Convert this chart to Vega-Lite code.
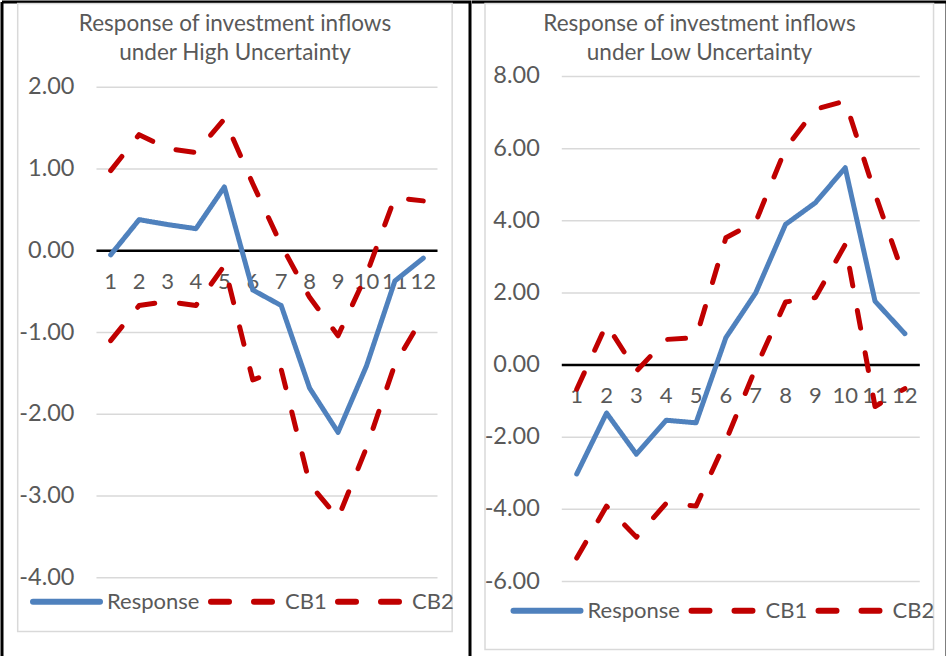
{
  "$schema": "https://vega.github.io/schema/vega-lite/v6.json",
  "padding": 0,
  "background": "white",
  "spacing": -3,
  "config": {
    "locale": {"number": {"decimal": ".", "thousands": ",", "grouping": [3], "currency": ["$", ""], "minus": "-"}},
    "font": "Lato",
    "title": {"font": "Lato", "fontSize": 22.5, "fontWeight": "normal", "color": "#595959", "lineHeight": 29, "anchor": "middle"},
    "text": {"font": "Lato", "fontSize": 22, "color": "#595959"},
    "legend": {
      "orient": "none", "direction": "horizontal", "title": null,
      "symbolType": "stroke", "symbolSize": 4489, "symbolStrokeWidth": 6,
      "labelFont": "Lato", "labelFontSize": 22, "labelColor": "#595959",
      "labelOffset": 4, "columnPadding": -1, "padding": 0, "labelLimit": 200
    }
  },
  "datasets": {
    "irf": [
      {"regime": "High", "series": "Response", "step": 1, "value": -0.05},
      {"regime": "High", "series": "Response", "step": 2, "value": 0.38},
      {"regime": "High", "series": "Response", "step": 3, "value": 0.32},
      {"regime": "High", "series": "Response", "step": 4, "value": 0.27},
      {"regime": "High", "series": "Response", "step": 5, "value": 0.78},
      {"regime": "High", "series": "Response", "step": 6, "value": -0.48},
      {"regime": "High", "series": "Response", "step": 7, "value": -0.67},
      {"regime": "High", "series": "Response", "step": 8, "value": -1.68},
      {"regime": "High", "series": "Response", "step": 9, "value": -2.22},
      {"regime": "High", "series": "Response", "step": 10, "value": -1.41},
      {"regime": "High", "series": "Response", "step": 11, "value": -0.37},
      {"regime": "High", "series": "Response", "step": 12, "value": -0.09},
      {"regime": "High", "series": "CB1", "step": 1, "value": -1.10},
      {"regime": "High", "series": "CB1", "step": 2, "value": -0.67},
      {"regime": "High", "series": "CB1", "step": 3, "value": -0.62},
      {"regime": "High", "series": "CB1", "step": 4, "value": -0.67},
      {"regime": "High", "series": "CB1", "step": 5, "value": -0.18},
      {"regime": "High", "series": "CB1", "step": 6, "value": -1.58},
      {"regime": "High", "series": "CB1", "step": 7, "value": -1.45},
      {"regime": "High", "series": "CB1", "step": 8, "value": -2.85},
      {"regime": "High", "series": "CB1", "step": 9, "value": -3.27},
      {"regime": "High", "series": "CB1", "step": 10, "value": -2.41},
      {"regime": "High", "series": "CB1", "step": 11, "value": -1.39},
      {"regime": "High", "series": "CB1", "step": 12, "value": -0.80},
      {"regime": "High", "series": "CB2", "step": 1, "value": 0.98},
      {"regime": "High", "series": "CB2", "step": 2, "value": 1.42},
      {"regime": "High", "series": "CB2", "step": 3, "value": 1.25},
      {"regime": "High", "series": "CB2", "step": 4, "value": 1.20},
      {"regime": "High", "series": "CB2", "step": 5, "value": 1.61},
      {"regime": "High", "series": "CB2", "step": 6, "value": 0.82},
      {"regime": "High", "series": "CB2", "step": 7, "value": 0.07},
      {"regime": "High", "series": "CB2", "step": 8, "value": -0.57},
      {"regime": "High", "series": "CB2", "step": 9, "value": -1.04},
      {"regime": "High", "series": "CB2", "step": 10, "value": -0.29},
      {"regime": "High", "series": "CB2", "step": 11, "value": 0.65},
      {"regime": "High", "series": "CB2", "step": 12, "value": 0.61},
      {"regime": "Low", "series": "Response", "step": 1, "value": -3.02},
      {"regime": "Low", "series": "Response", "step": 2, "value": -1.33},
      {"regime": "Low", "series": "Response", "step": 3, "value": -2.47},
      {"regime": "Low", "series": "Response", "step": 4, "value": -1.53},
      {"regime": "Low", "series": "Response", "step": 5, "value": -1.60},
      {"regime": "Low", "series": "Response", "step": 6, "value": 0.76},
      {"regime": "Low", "series": "Response", "step": 7, "value": 2.00},
      {"regime": "Low", "series": "Response", "step": 8, "value": 3.90},
      {"regime": "Low", "series": "Response", "step": 9, "value": 4.50},
      {"regime": "Low", "series": "Response", "step": 10, "value": 5.47},
      {"regime": "Low", "series": "Response", "step": 11, "value": 1.77},
      {"regime": "Low", "series": "Response", "step": 12, "value": 0.87},
      {"regime": "Low", "series": "CB1", "step": 1, "value": -5.35},
      {"regime": "Low", "series": "CB1", "step": 2, "value": -3.91},
      {"regime": "Low", "series": "CB1", "step": 3, "value": -4.77},
      {"regime": "Low", "series": "CB1", "step": 4, "value": -3.83},
      {"regime": "Low", "series": "CB1", "step": 5, "value": -3.91},
      {"regime": "Low", "series": "CB1", "step": 6, "value": -2.10},
      {"regime": "Low", "series": "CB1", "step": 7, "value": -0.08},
      {"regime": "Low", "series": "CB1", "step": 8, "value": 1.75},
      {"regime": "Low", "series": "CB1", "step": 9, "value": 1.87},
      {"regime": "Low", "series": "CB1", "step": 10, "value": 3.34},
      {"regime": "Low", "series": "CB1", "step": 11, "value": -1.15},
      {"regime": "Low", "series": "CB1", "step": 12, "value": -0.65},
      {"regime": "Low", "series": "CB2", "step": 1, "value": -0.67},
      {"regime": "Low", "series": "CB2", "step": 2, "value": 1.13},
      {"regime": "Low", "series": "CB2", "step": 3, "value": -0.17},
      {"regime": "Low", "series": "CB2", "step": 4, "value": 0.71},
      {"regime": "Low", "series": "CB2", "step": 5, "value": 0.76},
      {"regime": "Low", "series": "CB2", "step": 6, "value": 3.53},
      {"regime": "Low", "series": "CB2", "step": 7, "value": 3.97},
      {"regime": "Low", "series": "CB2", "step": 8, "value": 6.00},
      {"regime": "Low", "series": "CB2", "step": 9, "value": 7.09},
      {"regime": "Low", "series": "CB2", "step": 10, "value": 7.32},
      {"regime": "Low", "series": "CB2", "step": 11, "value": 4.75},
      {"regime": "Low", "series": "CB2", "step": 12, "value": 2.38}
    ],
    "gridHigh": [{"tick": -4}, {"tick": -3}, {"tick": -2}, {"tick": -1}, {"tick": 0}, {"tick": 1}, {"tick": 2}],
    "gridLow": [{"tick": -6}, {"tick": -4}, {"tick": -2}, {"tick": 0}, {"tick": 2}, {"tick": 4}, {"tick": 6}, {"tick": 8}]
  },
  "hconcat": [
    {
      "width": 468,
      "height": 654,
      "view": {"stroke": "black", "strokeWidth": 3, "strokeDash": [1122, 468, 654, 0]},
      "title": {"text": ["Response of investment inflows", "under High Uncertainty"], "offset": -62.5, "dx": -1},
      "layer": [
        {
          "data": {"values": [{}]},
          "mark": {"type": "rect", "fill": "transparent", "stroke": "#d9d9d9", "strokeWidth": 1.5},
          "encoding": {
            "x": {"datum": -2.273, "type": "quantitative", "axis": null},
            "x2": {"datum": 13.016},
            "y": {"datum": 3.024, "type": "quantitative", "axis": null},
            "y2": {"datum": -4.656}
          }
        },
        {
          "data": {"name": "gridHigh"},
          "mark": {"type": "rule", "stroke": "#d9d9d9", "strokeWidth": 1.5},
          "encoding": {
            "x": {"datum": 0.5, "type": "quantitative", "axis": null},
            "x2": {"datum": 12.5},
            "y": {"field": "tick", "type": "quantitative", "axis": null}
          }
        },
        {
          "data": {"name": "gridHigh"},
          "mark": {"type": "text", "align": "right", "baseline": "middle", "dx": -22, "fontSize": 23.5},
          "encoding": {
            "x": {"datum": 0.5, "type": "quantitative", "axis": null},
            "y": {"field": "tick", "type": "quantitative", "axis": null},
            "text": {"field": "tick", "type": "quantitative", "format": ".2f"}
          }
        },
        {
          "data": {"values": [{"tick": 0}]},
          "mark": {"type": "rule", "stroke": "black", "strokeWidth": 2.5},
          "encoding": {
            "x": {"datum": 0.5, "type": "quantitative", "axis": null},
            "x2": {"datum": 12.5},
            "y": {"field": "tick", "type": "quantitative", "axis": null}
          }
        },
        {
          "data": {"name": "irf"},
          "transform": [{"filter": "datum.regime === 'High' && datum.series === 'Response'"}],
          "mark": {"type": "text", "dy": 31, "baseline": "middle", "align": "center"},
          "encoding": {
            "x": {"field": "step", "type": "quantitative", "axis": null},
            "y": {"datum": 0, "type": "quantitative", "axis": null},
            "text": {"field": "step"}
          }
        },
        {
          "data": {"name": "irf"},
          "transform": [{"filter": "datum.regime === 'High'"}],
          "mark": {"type": "line", "strokeWidth": 5, "strokeCap": "round", "strokeJoin": "round"},
          "encoding": {
            "x": {"field": "step", "type": "quantitative", "scale": {"domain": [-2.825, 13.644], "nice": false, "zero": false}, "axis": null},
            "y": {"field": "value", "type": "quantitative", "scale": {"domain": [-4.956, 3.042], "nice": false, "zero": false}, "axis": null},
            "color": {
              "field": "series", "type": "nominal",
              "scale": {"domain": ["Response", "CB1", "CB2"], "range": ["#4F81BD", "#C00000", "#C00000"]},
              "legend": {"legendX": 28, "legendY": 563, "encode": {"symbols": {"update": {"strokeCap": {"value": "round"}}}}}
            },
            "strokeDash": {
              "field": "series", "type": "nominal",
              "scale": {"domain": ["Response", "CB1", "CB2"], "range": [[1, 0], [18, 25], [18, 25]]},
              "legend": {"legendX": 28, "legendY": 563, "encode": {"symbols": {"update": {"strokeCap": {"value": "round"}}}}}
            },
            "order": {"field": "step"}
          }
        }
      ]
    },
    {
      "width": 475,
      "height": 654,
      "view": {"stroke": "black", "strokeWidth": 3, "strokeDash": [1129, 1129]},
      "title": {"text": ["Response of investment inflows", "under Low Uncertainty"], "offset": -62.5, "dx": -10},
      "layer": [
        {
          "data": {"values": [{}]},
          "mark": {"type": "rect", "fill": "transparent", "stroke": "#d9d9d9", "strokeWidth": 1.5},
          "encoding": {
            "x": {"datum": -2.074, "type": "quantitative", "axis": null},
            "x2": {"datum": 12.961},
            "y": {"datum": 10.023, "type": "quantitative", "axis": null},
            "y2": {"datum": -7.886}
          }
        },
        {
          "data": {"name": "gridLow"},
          "mark": {"type": "rule", "stroke": "#d9d9d9", "strokeWidth": 1.5},
          "encoding": {
            "x": {"datum": 0.5, "type": "quantitative", "axis": null},
            "x2": {"datum": 12.5},
            "y": {"field": "tick", "type": "quantitative", "axis": null}
          }
        },
        {
          "data": {"name": "gridLow"},
          "mark": {"type": "text", "align": "right", "baseline": "middle", "dx": -22, "fontSize": 23.5},
          "encoding": {
            "x": {"datum": 0.5, "type": "quantitative", "axis": null},
            "y": {"field": "tick", "type": "quantitative", "axis": null},
            "text": {"field": "tick", "type": "quantitative", "format": ".2f"}
          }
        },
        {
          "data": {"values": [{"tick": 0}]},
          "mark": {"type": "rule", "stroke": "black", "strokeWidth": 2.5},
          "encoding": {
            "x": {"datum": 0.5, "type": "quantitative", "axis": null},
            "x2": {"datum": 12.5},
            "y": {"field": "tick", "type": "quantitative", "axis": null}
          }
        },
        {
          "data": {"name": "irf"},
          "transform": [{"filter": "datum.regime === 'Low' && datum.series === 'Response'"}],
          "mark": {"type": "text", "dy": 31, "baseline": "middle", "align": "center"},
          "encoding": {
            "x": {"field": "step", "type": "quantitative", "axis": null},
            "y": {"datum": 0, "type": "quantitative", "axis": null},
            "text": {"field": "step"}
          }
        },
        {
          "data": {"name": "irf"},
          "transform": [{"filter": "datum.regime === 'Low'"}],
          "mark": {"type": "line", "strokeWidth": 5, "strokeCap": "round", "strokeJoin": "round"},
          "encoding": {
            "x": {"field": "step", "type": "quantitative", "scale": {"domain": [-2.510, 13.412], "nice": false, "zero": false}, "axis": null},
            "y": {"field": "value", "type": "quantitative", "scale": {"domain": [-8.065, 10.065], "nice": false, "zero": false}, "axis": null},
            "color": {
              "field": "series", "type": "nominal",
              "scale": {"domain": ["Response", "CB1", "CB2"], "range": ["#4F81BD", "#C00000", "#C00000"]},
              "legend": {"legendX": 38.5, "legendY": 572, "encode": {"symbols": {"update": {"strokeCap": {"value": "round"}}}}}
            },
            "strokeDash": {
              "field": "series", "type": "nominal",
              "scale": {"domain": ["Response", "CB1", "CB2"], "range": [[1, 0], [18, 25], [18, 25]]},
              "legend": {"legendX": 38.5, "legendY": 572, "encode": {"symbols": {"update": {"strokeCap": {"value": "round"}}}}}
            },
            "order": {"field": "step"}
          }
        }
      ]
    }
  ],
  "resolve": {"scale": {"color": "independent", "strokeDash": "independent"}}
}
